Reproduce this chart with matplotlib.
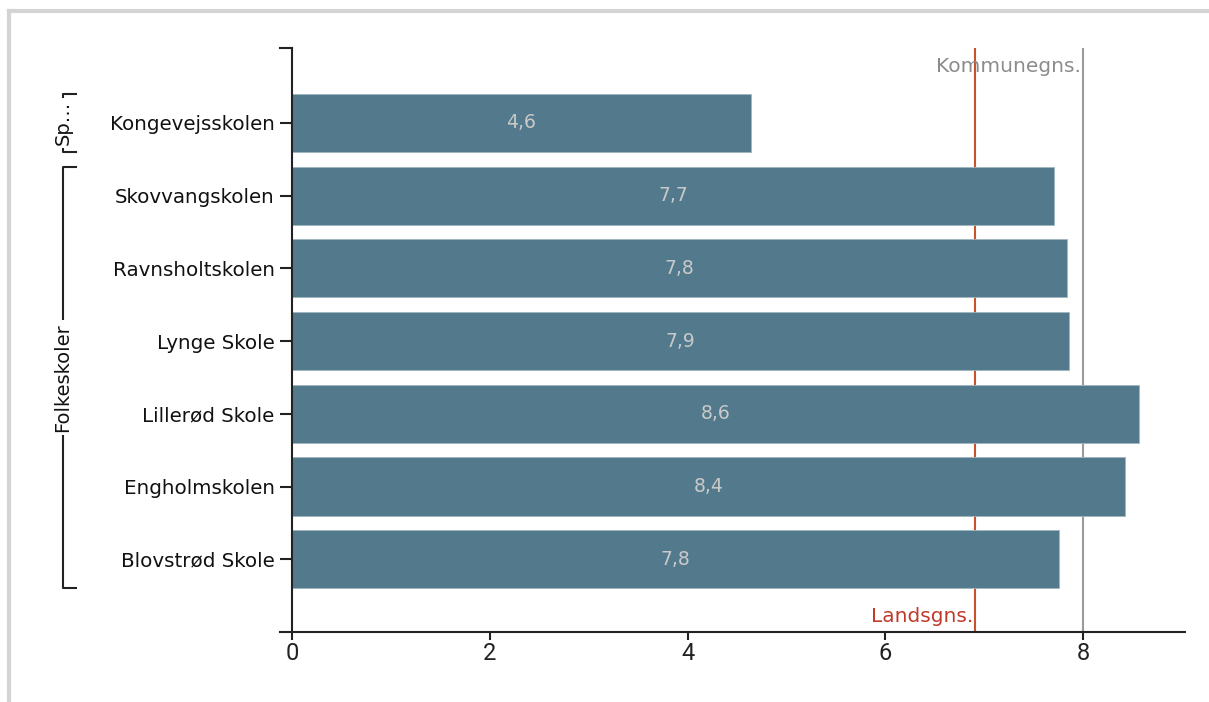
import matplotlib.pyplot as plt
from matplotlib.lines import Line2D

# data
schools = ['Kongevejsskolen', 'Skovvangskolen', 'Ravnsholtskolen', 'Lynge Skole',
           'Lillerød Skole', 'Engholmskolen', 'Blovstrød Skole']
values = [4.64, 7.71, 7.84, 7.86, 8.56, 8.42, 7.76]
value_labels = ['4,6', '7,7', '7,8', '7,9', '8,6', '8,4', '7,8']
groups = ['Sp…', 'Folkeskoler']
group_spans = [(0, 0), (1, 6)]  # first and last school index in each group
lands_avg = 6.91
kommune_avg = 8.0
xticks = [0, 2, 4, 6, 8]

BAR_COLOR = '#537a8c'
LINE_RED = '#c9522b'
LINE_GREY = '#9a9a9a'
AXIS_COLOR = '#222222'

plt.rcParams['font.family'] = ['DejaVu Sans']

fig = plt.figure(figsize=(12.09, 7.02), dpi=100)
W, H = 1209, 702
ax = fig.add_axes([292 / W, 1 - 632 / H, (1185 - 292) / W, (632 - 48) / H])

ypos = list(range(len(schools)))

# reference lines sit behind the bars
ax.axvline(lands_avg, color=LINE_RED, lw=1.5, zorder=1)
ax.axvline(kommune_avg, color=LINE_GREY, lw=1.5, zorder=1)

ax.barh(ypos, values, height=0.8, color=BAR_COLOR, edgecolor='#9fb6c1', linewidth=0.6, zorder=2)
for y, v, lab in zip(ypos, values, value_labels):
    ax.text(v / 2, y, lab, ha='center', va='center', color='#c9c9c9', fontsize=13.5, zorder=3)

ax.text(kommune_avg - 0.02, -0.78, 'Kommunegns.', ha='right', va='center', color='#8c8c8c', fontsize=14.5)
ax.text(lands_avg - 0.02, 6.79, 'Landsgns.', ha='right', va='center', color='#c0392b', fontsize=14.5)

ax.set_xlim(0, 9.03)
ax.set_ylim(7, -1.03)
ax.set_xticks(xticks)
ax.set_xticklabels([str(t) for t in xticks], fontsize=17, family=['Roboto', 'DejaVu Sans'])
ax.set_yticks(ypos)
ax.set_yticklabels(schools, fontsize=14.3, color='#111111')

for side in ['top', 'right']:
    ax.spines[side].set_visible(False)
for side in ['left', 'bottom']:
    ax.spines[side].set_color(AXIS_COLOR)
    ax.spines[side].set_linewidth(1.5)
ax.tick_params(axis='x', colors=AXIS_COLOR, width=1.5, length=6, pad=1)
ax.tick_params(axis='y', colors=AXIS_COLOR, width=1.5, length=8.5, pad=4, labelcolor='#111111')

# outer ticks of the y axis (top and bottom)
ext = 12 / (1185 - 292)
for yy in [0, 1]:
    ax.add_line(Line2D([-ext, 0], [yy, yy], transform=ax.transAxes, color=AXIS_COLOR, lw=1.5, clip_on=False))

# group brackets on the left
bx = 63 / W
tx = 76 / W
for name, (a, b) in zip(groups, group_spans):
    top = ax.transData.transform((0, a - 0.4))[1] / H
    bot = ax.transData.transform((0, b + 0.4))[1] / H
    fig.add_artist(Line2D([tx, bx, bx, tx], [top, top, bot, bot], color=AXIS_COLOR, lw=1.5))
    mid = (top + bot) / 2
    fig.text(bx, mid, name, rotation=90, ha='center', va='center', fontsize=14, color='#111111',
             bbox=dict(facecolor='white', edgecolor='none', pad=2))

# light grey frame at top and left
fig.add_artist(Line2D([9 / W, 1], [1 - 11 / H, 1 - 11 / H], color='#d4d4d4', lw=3))
fig.add_artist(Line2D([9 / W, 9 / W], [0, 1 - 11 / H], color='#d4d4d4', lw=3))

fig.savefig('out.png', dpi=100)
